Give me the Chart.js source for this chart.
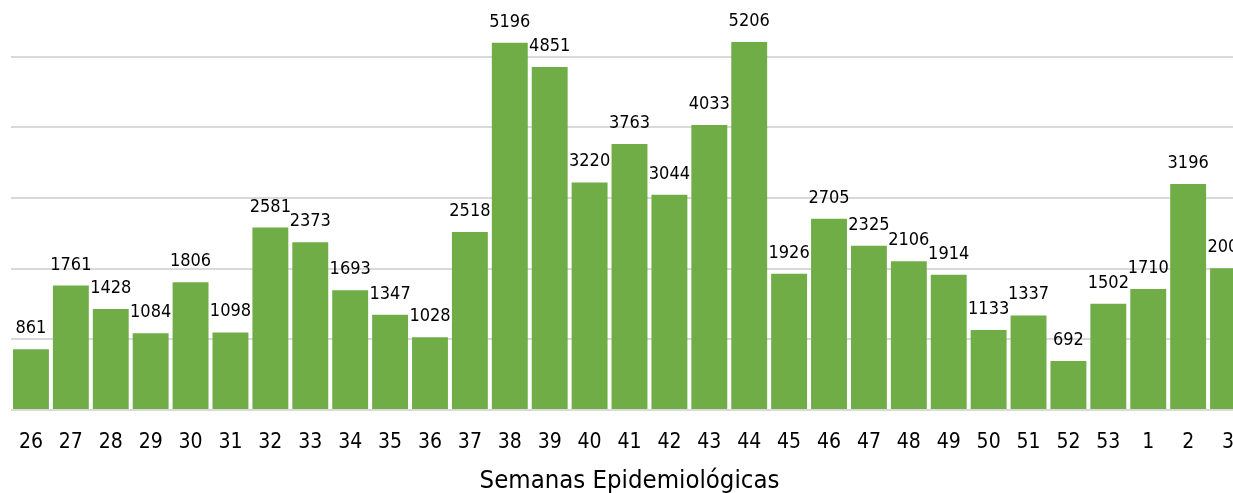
<!DOCTYPE html>
<html lang="es">
<head>
  <meta charset="UTF-8">
  <title>Semanas Epidemiológicas</title>
  <script src="https://cdn.jsdelivr.net/npm/chart.js@4.4.1/dist/chart.umd.min.js"></script>
  <style>
    html, body { margin: 0; padding: 0; background: #fff; overflow: hidden; }
    #wrap { width: 1250px; height: 493px; }
  </style>
</head>
<body>
  <div id="wrap"><canvas id="chart" width="1250" height="493"></canvas></div>
  <script>
// semanas epidemiologicas (26..53 y luego 1..3 del año siguiente)
const semanas = ['26','27','28','29','30','31','32','33','34','35','36','37','38','39','40',
                 '41','42','43','44','45','46','47','48','49','50','51','52','53','1','2','3'];
const casos = [861, 1761, 1428, 1084, 1806, 1098, 2581, 2373, 1693, 1347, 1028, 2518, 5196, 4851, 3220,
               3763, 3044, 4033, 5206, 1926, 2705, 2325, 2106, 1914, 1133, 1337, 692, 1502, 1710, 3196, 2005];
// lineas de referencia (sin etiquetas en el eje y)
const lineasY = [0, 1000, 2000, 3000, 4000, 5000];

const FONT = "'DejaVu Sans Condensed', 'DejaVu Sans', sans-serif";

// etiquetas de valor encima de cada barra
const valueLabels = {
  id: 'valueLabels',
  afterDatasetsDraw(chart) {
    const ctx = chart.ctx;
    const meta = chart.getDatasetMeta(0);
    ctx.save();
    ctx.font = '18px ' + FONT;
    ctx.fillStyle = '#000';
    ctx.textAlign = 'center';
    ctx.textBaseline = 'alphabetic';
    meta.data.forEach((bar, i) => {
      ctx.fillText(String(casos[i]), bar.x, bar.y - 16);
    });
    ctx.restore();
  }
};

const ctx = document.getElementById('chart').getContext('2d');
new Chart(ctx, {
  type: 'bar',
  data: {
    labels: semanas,
    datasets: [{
      data: casos,
      backgroundColor: '#70AD47',
      borderWidth: 0,
      barPercentage: 0.9,
      categoryPercentage: 1.0
    }]
  },
  options: {
    responsive: false,
    animation: false,
    layout: { padding: { top: 0, right: 2, bottom: 0, left: 0 } },
    plugins: {
      legend: { display: false },
      tooltip: { enabled: false }
    },
    scales: {
      x: {
        grid: { display: false },
        border: { display: false },
        ticks: {
          color: '#000',
          font: { family: FONT, size: 21 },
          padding: 12,
          maxRotation: 0,
          autoSkip: false
        },
        title: {
          display: true,
          text: 'Semanas Epidemiológicas',
          color: '#000',
          font: { family: FONT, size: 25.5 },
          padding: { top: 0, bottom: -4 }
        },
        afterFit(scale) { scale.height = 83; }
      },
      y: {
        min: 0,
        max: 5800,
        ticks: { display: false },
        border: { display: false },
        grid: {
          drawTicks: false,
          lineWidth: 2,
          color: '#d9d9d9'
        },
        afterBuildTicks(scale) {
          scale.ticks = lineasY.map(v => ({ value: v }));
        },
        afterFit(scale) { scale.width = 11; }
      }
    }
  },
  plugins: [valueLabels]
});
  </script>
</body>
</html>
